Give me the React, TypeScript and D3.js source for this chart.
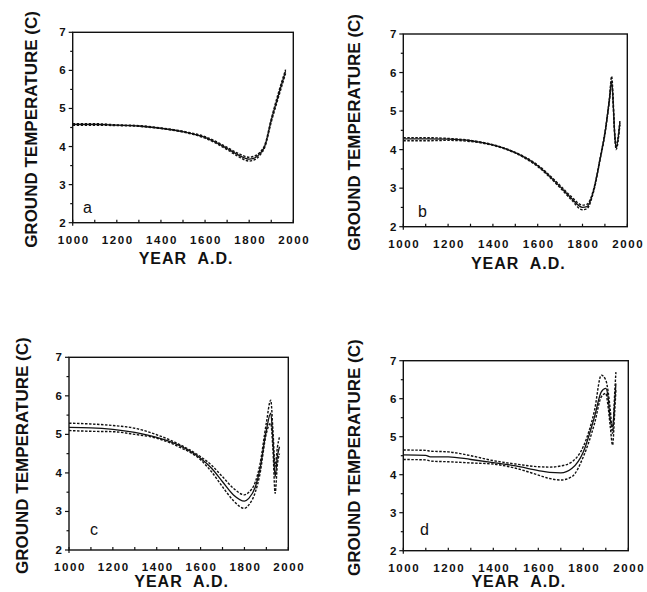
import React, { useEffect, useRef } from "react";
import * as d3 from "d3";

// ---- data ----
const yearsA = [1000, 1100, 1200, 1300, 1400, 1500, 1600, 1700, 1750, 1800, 1820, 1850, 1870, 1900, 1930, 1965];
const meanA = [4.58, 4.58, 4.56, 4.54, 4.48, 4.39, 4.24, 3.95, 3.78, 3.67, 3.69, 3.82, 4.0, 4.69, 5.3, 5.98];
const upperA = [4.6, 4.6, 4.57, 4.55, 4.49, 4.4, 4.26, 3.98, 3.82, 3.72, 3.74, 3.86, 4.03, 4.72, 5.36, 6.02];
const lowerA = [4.56, 4.56, 4.55, 4.53, 4.47, 4.38, 4.22, 3.92, 3.74, 3.62, 3.64, 3.78, 3.97, 4.64, 5.24, 5.92];

const yearsB = [1000, 1100, 1200, 1300, 1400, 1500, 1600, 1700, 1750, 1800, 1820, 1850, 1880, 1900, 1920, 1930, 1945, 1950, 1967];
const meanB = [4.28, 4.28, 4.27, 4.23, 4.12, 3.92, 3.58, 3.04, 2.74, 2.5, 2.52, 2.95, 3.8, 4.42, 5.29, 5.78, 4.3, 4.05, 4.7];
const upperB = [4.31, 4.31, 4.29, 4.24, 4.13, 3.93, 3.6, 3.07, 2.78, 2.56, 2.58, 2.98, 3.82, 4.45, 5.33, 5.9, 4.35, 4.1, 4.75];
const lowerB = [4.23, 4.23, 4.24, 4.21, 4.11, 3.91, 3.56, 3.01, 2.7, 2.44, 2.47, 2.92, 3.78, 4.39, 5.25, 5.7, 4.25, 4.0, 4.65];

const yearsC = [1000, 1100, 1200, 1300, 1400, 1500, 1600, 1650, 1700, 1750, 1800, 1820, 1850, 1870, 1900, 1920, 1930, 1940, 1950, 1960];
const meanC = [5.18, 5.17, 5.13, 5.05, 4.92, 4.72, 4.38, 4.12, 3.77, 3.43, 3.27, 3.34, 3.64, 4.08, 5.11, 5.55, 4.85, 3.9, 4.42, 4.68];
const upperC = [5.29, 5.27, 5.23, 5.16, 4.99, 4.75, 4.42, 4.2, 3.9, 3.6, 3.43, 3.5, 3.77, 4.2, 5.3, 5.89, 5.1, 4.16, 4.65, 4.94];
const lowerC = [5.1, 5.08, 5.07, 5.0, 4.9, 4.68, 4.34, 4.03, 3.64, 3.28, 3.08, 3.17, 3.51, 3.95, 5.03, 5.29, 4.6, 3.47, 4.2, 4.5];

const yearsD = [1000, 1100, 1120, 1200, 1300, 1400, 1500, 1600, 1650, 1700, 1750, 1800, 1850, 1880, 1900, 1910, 1920, 1930, 1940, 1945];
const meanD = [4.52, 4.51, 4.47, 4.47, 4.4, 4.32, 4.23, 4.11, 4.06, 4.05, 4.17, 4.6, 5.53, 6.18, 6.27, 6.05, 5.44, 5.26, 5.96, 6.4];
const upperD = [4.65, 4.64, 4.62, 4.6, 4.5, 4.37, 4.28, 4.21, 4.2, 4.23, 4.34, 4.74, 5.7, 6.62, 6.49, 6.2, 5.7, 5.09, 6.2, 6.7];
const lowerD = [4.4, 4.39, 4.36, 4.34, 4.31, 4.28, 4.17, 3.99, 3.9, 3.86, 3.95, 4.47, 5.35, 6.05, 6.14, 5.8, 5.26, 4.78, 5.7, 6.23];

const xTickLabels = [1000, 1200, 1400, 1600, 1800, 2000];
const yTickLabels = [2, 3, 4, 5, 6, 7];

const panels = [
    { id: "a", years: yearsA, mean: meanA, upper: upperA, lower: lowerA,
      left: 72.7, right: 293.3, top: 32.3, bottom: 222.7, titleX: 31, xTitleY: 264, letterX: 83, letterY: 213 },
    { id: "b", years: yearsB, mean: meanB, upper: upperB, lower: lowerB,
      left: 403.3, right: 627.3, top: 34, bottom: 226.7, titleX: 354, xTitleY: 269, letterX: 418, letterY: 217 },
    { id: "c", years: yearsC, mean: meanC, upper: upperC, lower: lowerC,
      left: 69, right: 288.3, top: 357.3, bottom: 550, titleX: 22, xTitleY: 587, letterX: 90, letterY: 535 },
    { id: "d", years: yearsD, mean: meanD, upper: upperD, lower: lowerD,
      left: 403.3, right: 628.3, top: 360.7, bottom: 550.7, titleX: 354, xTitleY: 587, letterX: 420, letterY: 535 },
];

export default function App() {
    const svgRef = useRef(null);

    useEffect(() => {
        const svg = d3.select(svgRef.current);
        svg.selectAll("*").remove();

        var ink = "#111";
        var font = "'Liberation Sans', Arial, Helvetica, sans-serif";

        panels.forEach(p => {
            const g = svg.append("g");
            const x = d3.scaleLinear().domain([1000, 2000]).range([p.left, p.right]);
            const y = d3.scaleLinear().domain([2, 7]).range([p.bottom, p.top]);

            // frame
            g.append("rect")
                .attr("x", p.left).attr("y", p.top)
                .attr("width", p.right - p.left).attr("height", p.bottom - p.top)
                .style("fill", "none").style("stroke", ink).style("stroke-width", 1.4);

            // x ticks (inside, every 100)
            d3.range(1000, 2001, 100).forEach(t => {
                g.append("line")
                    .attr("x1", x(t)).attr("x2", x(t))
                    .attr("y1", p.bottom).attr("y2", p.bottom - 3)
                    .style("stroke", ink).style("stroke-width", 1.2);
            });
            g.append("line").attr("x1", x(1000)).attr("x2", x(1000))
                .attr("y1", p.bottom).attr("y2", p.bottom + 3)
                .style("stroke", ink).style("stroke-width", 1.2);

            // y ticks (outside, major + half)
            d3.range(2, 7.01, 0.5).forEach(t => {
                const major = Number.isInteger(t);
                g.append("line")
                    .attr("x1", p.left).attr("x2", p.left - (major ? 4 : 2.5))
                    .attr("y1", y(t)).attr("y2", y(t))
                    .style("stroke", ink).style("stroke-width", 1.2);
            });

            g.selectAll(".xlab").data(xTickLabels).enter().append("text")
                .attr("x", d => x(d) + 1)
                .attr("y", p.bottom + 21)
                .attr("text-anchor", "middle")
                .style("font-family", font).style("font-weight", "bold")
                .style("font-size", "11.5px").style("letter-spacing", "1.6px")
                .style("fill", ink)
                .text(d => d);

            g.selectAll(".ylab").data(yTickLabels).enter().append("text")
                .attr("x", p.left - 7)
                .attr("y", d => y(d))
                .attr("dy", "0.35em")
                .attr("text-anchor", "end")
                .style("font-family", font).style("font-weight", "bold")
                .style("font-size", "11.5px")
                .style("fill", ink)
                .text(d => d);

            g.append("text")
                .attr("x", (p.left + p.right) / 2 + 3)
                .attr("y", p.xTitleY)
                .attr("text-anchor", "middle")
                .style("font-family", font).style("font-weight", "bold")
                .style("font-size", "16px").style("letter-spacing", "1px")
                .style("white-space", "pre")
                .style("fill", ink)
                .text("YEAR  A.D.");

            const cy = (p.top + p.bottom) / 2 + 2;
            g.append("text")
                .attr("transform", "translate(" + (p.titleX + 6) + "," + cy + ") rotate(-90)")
                .attr("text-anchor", "middle")
                .style("font-family", font).style("font-weight", "bold")
                .style("font-size", "17px")
                .style("fill", ink)
                .text("GROUND TEMPERATURE (C)");

            g.append("text")
                .attr("x", p.letterX).attr("y", p.letterY)
                .style("font-family", font)
                .style("font-size", "16px")
                .style("fill", ink)
                .text(p.id);

            const line = (vals) => d3.line()
                .x((d, i) => x(p.years[i]))
                .y(d => y(d))
                .curve(d3.curveMonotoneX)(vals);

            [p.upper, p.lower].forEach(vals => {
                g.append("path").attr("d", line(vals))
                    .style("fill", "none").style("stroke", ink)
                    .style("stroke-width", 1.4).style("stroke-dasharray", "2.5,1.5");
            });
            g.append("path").attr("d", line(p.mean))
                .style("fill", "none").style("stroke", ink).style("stroke-width", 1.3);
        });
    }, []);

    return (
        <svg ref={svgRef} width={647} height={592}
            style={{ position: "absolute", left: 0, top: 0, background: "#fff" }} />
    );
}
